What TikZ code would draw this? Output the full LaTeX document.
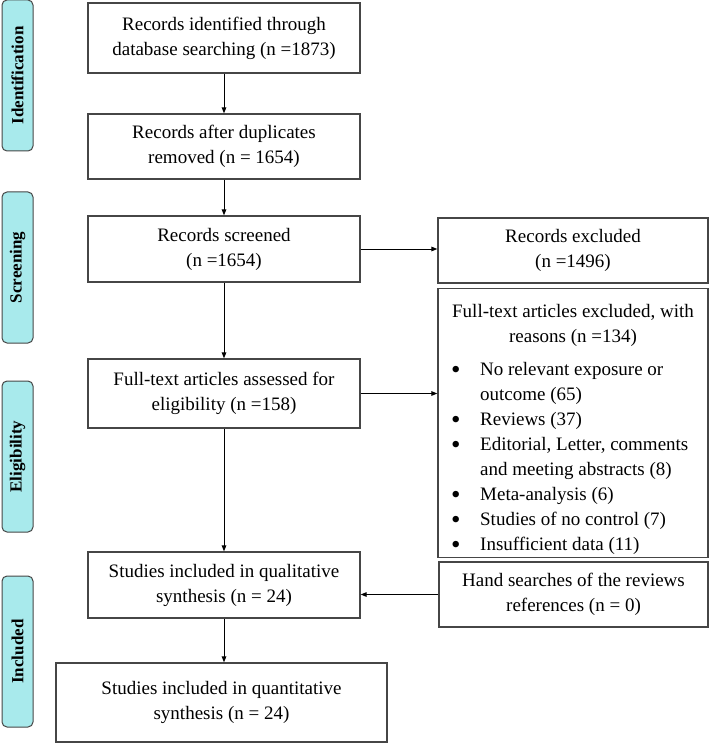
\documentclass[tikz,border=0pt]{standalone}
\usepackage{fontspec}
\setmainfont{Liberation Serif}
\usetikzlibrary{arrows.meta,positioning}
\definecolor{phasecyan}{RGB}{168,234,236}
\definecolor{boxgray}{RGB}{70,70,70}
\newcommand{\reasonbullet}{\makebox[28pt][l]{\hspace{-1pt}\raisebox{-3.5pt}{\fontsize{27}{25}\selectfont\textbullet}}}

\begin{document}
\begin{tikzpicture}[
    x=1pt, y=-1pt,
    box/.style={draw=boxgray,line width=1.2pt,fill=white,inner sep=0pt,align=center,font=\fontsize{19}{25}\selectfont},
    phase/.style={draw=boxgray,line width=1pt,fill=phasecyan,rounded corners=5pt,rotate=90,minimum width=151pt,minimum height=31pt,inner sep=0pt,font=\fontsize{17}{20}\selectfont\bfseries},
    arrow/.style={-{Triangle[length=6pt,width=4.5pt]},line width=1pt}
]
    \useasboundingbox (0,0) rectangle (709,743);

    % Phase labels down the left side
    \node[phase] (idlab) at (17.5,75.5) {Identification};
    \node[phase] (scrlab) at (17.5,267.5) {Screening};
    \node[phase] (elilab) at (17.5,456.5) {Eligibility};
    \node[phase] (inclab) at (17.5,651.5) {Included};

    % Main column
    \node[box,minimum width=272pt,minimum height=70pt] (found) at (224,38) {Records identified through\\database searching (n =1873)};
    \node[box,minimum width=272pt,minimum height=65pt] (dedup) at (224,146.5) {Records after duplicates\\removed (n = 1654)};
    \node[box,minimum width=272pt,minimum height=66pt] (screen) at (224,249) {Records screened\\(n =1654)};
    \node[box,minimum width=272pt,minimum height=69pt] (fulltext) at (224,393.5) {Full-text articles assessed for\\eligibility (n =158)};
    \node[box,minimum width=272pt,minimum height=66pt] (qual) at (224,585) {Studies included in qualitative\\synthesis (n = 24)};
    \node[box,minimum width=331pt,minimum height=79pt] (quant) at (221.5,702.5) {Studies included in quantitative\\synthesis (n = 24)};

    % Right column
    \node[box,minimum width=270pt,minimum height=65pt] (recexcl) at (573,250.5) {Records excluded\\(n =1496)};
    \node[box,minimum width=270pt,minimum height=268pt] (ftexcl) at (573,423) {%
        \begin{tabular}{@{}l@{}l@{}}
        \multicolumn{2}{@{}c@{}}{\rule{0pt}{28.5pt}Full-text articles excluded, with}\\
        \multicolumn{2}{@{}c@{}}{reasons (n =134)}\\[8pt]
        \reasonbullet & No relevant exposure or\\
        & outcome (65)\\
        \reasonbullet & Reviews (37)\\
        \reasonbullet & Editorial, Letter, comments\\
        & and meeting abstracts (8)\\
        \reasonbullet & Meta-analysis (6)\\
        \reasonbullet & Studies of no control (7)\\
        \reasonbullet & Insufficient data (11)
        \end{tabular}};
    \node[box,minimum width=269pt,minimum height=65pt] (hand) at (573.5,594.5) {Hand searches of the reviews\\references (n = 0)};

    % Flow arrows
    \draw[arrow] (found) -- (dedup);
    \draw[arrow] (dedup) -- (screen);
    \draw[arrow] (screen) -- (fulltext);
    \draw[arrow] (fulltext) -- (qual);
    \draw[arrow] (qual.south) -- (qual.south |- quant.north);
    \draw[arrow] (screen.east) -- (screen.east -| recexcl.west);
    \draw[arrow] (fulltext.east) -- (fulltext.east -| ftexcl.west);
    \draw[arrow] (hand.west) -- (hand.west -| qual.east);
\end{tikzpicture}
\end{document}
